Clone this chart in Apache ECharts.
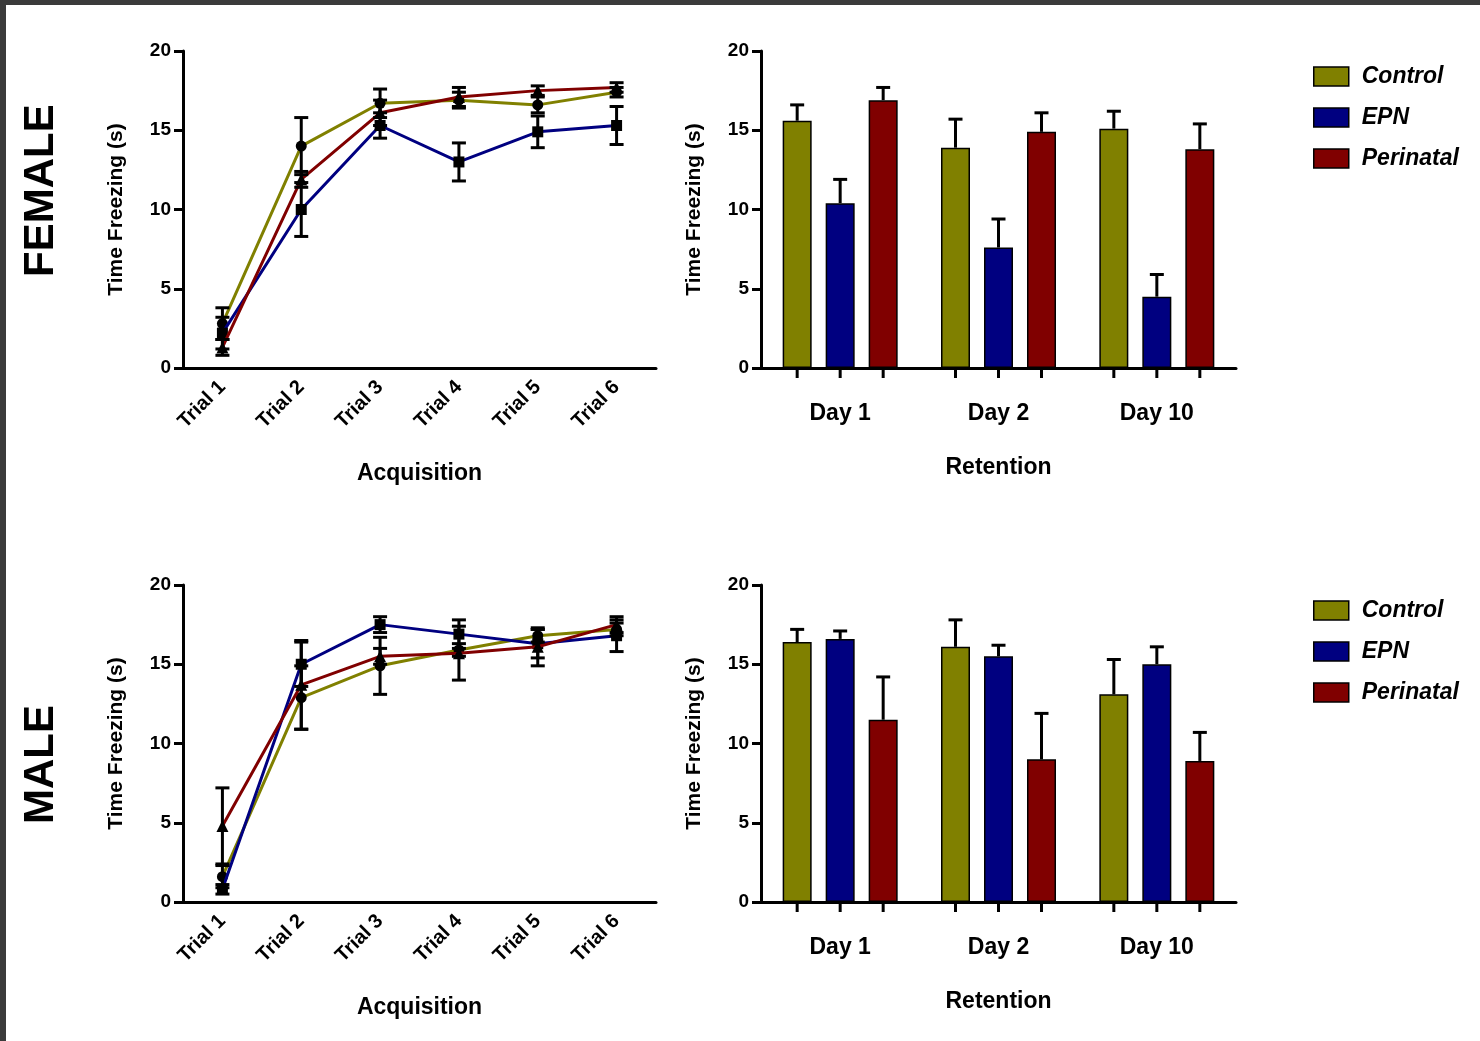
<!DOCTYPE html>
<html>
<head>
<meta charset="utf-8">
<script src="https://cdn.jsdelivr.net/npm/echarts@6/dist/echarts.min.js"></script>
<style>
  html, body { margin: 0; padding: 0; background: #fff; }
  #frame { position: absolute; left: 0; top: 0; width: 1480px; height: 1041px; box-sizing: border-box; border-top: 5px solid #3b3b3b; border-left: 6px solid #3b3b3b; }
  #chart { position: absolute; left: 0; top: 0; width: 1480px; height: 1041px; }
</style>
</head>
<body>
<div id="frame"></div>
<div id="chart"></div>
<script>
'use strict';
const trials = ['Trial 1', 'Trial 2', 'Trial 3', 'Trial 4', 'Trial 5', 'Trial 6'];
const days = ['Day 1', 'Day 2', 'Day 10'];
const groups = ['Control', 'EPN', 'Perinatal'];
const colors = ['#808000', '#000080', '#800000'];
const symbols = ['circle', 'rect', 'triangle'];

// female acquisition: mean, sem
const femAcqMean = [
  [2.8, 14.0, 16.7, 16.9, 16.6, 17.4],
  [2.2, 10.0, 15.3, 13.0, 14.9, 15.3],
  [1.3, 11.9, 16.1, 17.1, 17.5, 17.7]
];
const femAcqErr = [
  [1.0, 1.8, 0.9, 0.5, 0.5, 0.3],
  [1.0, 1.7, 0.8, 1.2, 1.0, 1.2],
  [0.5, 0.5, 0.8, 0.6, 0.3, 0.3]
];
// male acquisition
const maleAcqMean = [
  [1.6, 12.9, 14.9, 15.9, 16.8, 17.2],
  [0.8, 15.0, 17.5, 16.9, 16.3, 16.8],
  [4.8, 13.7, 15.5, 15.7, 16.1, 17.5]
];
const maleAcqErr = [
  [0.7, 2.0, 1.8, 0.4, 0.4, 0.4],
  [0.3, 1.4, 0.5, 0.9, 0.9, 1.0],
  [2.4, 2.8, 0.5, 1.7, 1.2, 0.5]
];
// retention
const femRetMean = [[15.6, 13.9, 15.1], [10.4, 7.6, 4.5], [16.9, 14.9, 13.8]];
const femRetErr = [[1.0, 1.8, 1.1], [1.5, 1.8, 1.4], [0.8, 1.2, 1.6]];
const maleRetMean = [[16.4, 16.1, 13.1], [16.6, 15.5, 15.0], [11.5, 9.0, 8.9]];
const maleRetErr = [[0.8, 1.7, 2.2], [0.5, 0.7, 1.1], [2.7, 2.9, 1.8]];

const FONT = 'Liberation Sans, Arial, sans-serif';
const BAR_W = 29;
const BAR_STEP = 43;

function yAxis(gi) {
  return {
    type: 'value', gridIndex: gi, min: 0, max: 20, interval: 5,
    name: 'Time Freezing (s)', nameLocation: 'middle', nameGap: 56, nameRotate: 90,
    nameTextStyle: {fontFamily: FONT, fontWeight: 'bold', fontSize: 21, color: '#000'},
    axisLine: {show: true, lineStyle: {color: '#000', width: 3}},
    axisTick: {show: true, length: 9, lineStyle: {color: '#000', width: 3}},
    axisLabel: {fontFamily: FONT, fontWeight: 'bold', fontSize: 19, color: '#000', margin: 12},
    splitLine: {show: false}
  };
}
function xAxisLine(gi) {
  return {
    type: 'category', gridIndex: gi, data: trials,
    name: 'Acquisition', nameLocation: 'middle', nameGap: 94,
    nameTextStyle: {fontFamily: FONT, fontWeight: 'bold', fontSize: 23, color: '#000'},
    axisLine: {lineStyle: {color: '#000', width: 3}},
    axisTick: {alignWithLabel: true, length: 9, lineStyle: {color: '#000', width: 3}},
    axisLabel: {fontFamily: FONT, fontWeight: 'bold', fontSize: 20, color: '#000', rotate: 45, margin: 16, interval: 0}
  };
}
function xAxisBar(gi) {
  return {
    type: 'category', gridIndex: gi, data: days,
    name: 'Retention', nameLocation: 'middle', nameGap: 88,
    nameTextStyle: {fontFamily: FONT, fontWeight: 'bold', fontSize: 23, color: '#000'},
    axisLine: {lineStyle: {color: '#000', width: 3}},
    axisTick: {show: false},
    axisLabel: {fontFamily: FONT, fontWeight: 'bold', fontSize: 23, color: '#000', margin: 34}
  };
}

function lineSeries(gi, means, errs) {
  const out = [];
  means.forEach((m, k) => {
    out.push({
      type: 'line', name: groups[k], xAxisIndex: gi, yAxisIndex: gi, data: m,
      symbol: symbols[k], symbolSize: k === 2 ? 12 : 11,
      itemStyle: {color: '#000'}, lineStyle: {color: colors[k], width: 3}, z: 3 + k
    });
  });
  means.forEach((m, k) => {
    out.push({
      type: 'custom', xAxisIndex: gi, yAxisIndex: gi, z: 10,
      data: m.map((v, i) => [i, v, errs[k][i]]),
      renderItem: (params, api) => {
        const lo = api.coord([api.value(0), api.value(1) - api.value(2)]);
        const hi = api.coord([api.value(0), api.value(1) + api.value(2)]);
        const st = {stroke: '#000', lineWidth: 3};
        return {type: 'group', children: [
          {type: 'line', shape: {x1: lo[0], y1: lo[1], x2: hi[0], y2: hi[1]}, style: st},
          {type: 'line', shape: {x1: lo[0] - 7, y1: lo[1], x2: lo[0] + 7, y2: lo[1]}, style: st},
          {type: 'line', shape: {x1: hi[0] - 7, y1: hi[1], x2: hi[0] + 7, y2: hi[1]}, style: st}
        ]};
      }
    });
  });
  return out;
}

function barSeries(gi, means, errs) {
  const out = [];
  means.forEach((m, k) => {
    out.push({
      type: 'bar', name: groups[k], xAxisIndex: gi, yAxisIndex: gi, data: m,
      barWidth: BAR_W, barGap: ((BAR_STEP - BAR_W) / BAR_W * 100) + '%',
      itemStyle: {color: colors[k], borderColor: '#000', borderWidth: 1.5}
    });
  });
  means.forEach((m, k) => {
    out.push({
      type: 'custom', xAxisIndex: gi, yAxisIndex: gi, z: 10,
      data: m.map((v, i) => [i, v, errs[k][i]]),
      renderItem: (params, api) => {
        const off = (k - 1) * BAR_STEP;
        const mid = api.coord([api.value(0), api.value(1)]);
        const hi = api.coord([api.value(0), api.value(1) + api.value(2)]);
        const base = api.coord([api.value(0), 0]);
        const x = mid[0] + off;
        const st = {stroke: '#000', lineWidth: 3};
        return {type: 'group', children: [
          {type: 'line', shape: {x1: x, y1: mid[1], x2: x, y2: hi[1]}, style: st},
          {type: 'line', shape: {x1: x - 7, y1: hi[1], x2: x + 7, y2: hi[1]}, style: st},
          {type: 'line', shape: {x1: x, y1: base[1], x2: x, y2: base[1] + 10}, style: st}
        ]};
      }
    });
  });
  return out;
}

function legendAt(top) {
  return {
    left: 1308, top: top, orient: 'vertical', itemWidth: 35, itemHeight: 19, itemGap: 18,
    icon: 'rect',
    data: groups.map((g, k) => ({name: g, itemStyle: {color: colors[k], borderColor: '#000', borderWidth: 1.5}})),
    textStyle: {fontFamily: FONT, fontWeight: 'bold', fontStyle: 'italic', fontSize: 23, color: '#000', padding: [0, 0, 0, 8]}
  };
}

const chart = echarts.init(document.getElementById('chart'));
const option = {
  animation: false,
  grid: [
    {left: 183, top: 51, width: 473, height: 317},
    {left: 761, top: 51, width: 475, height: 317},
    {left: 183, top: 585, width: 473, height: 317},
    {left: 761, top: 585, width: 475, height: 317}
  ],
  xAxis: [xAxisLine(0), xAxisBar(1), xAxisLine(2), xAxisBar(3)],
  yAxis: [yAxis(0), yAxis(1), yAxis(2), yAxis(3)],
  legend: [legendAt(60), legendAt(594)],
  graphic: [
    {type: 'text', x: 20, y: 277, rotation: Math.PI / 2, style: {text: 'FEMALE', font: 'bold 42px ' + FONT, fill: '#000'}},
    {type: 'text', x: 20, y: 824, rotation: Math.PI / 2, style: {text: 'MALE', font: 'bold 42px ' + FONT, fill: '#000'}}
  ],
  series: [].concat(
    lineSeries(0, femAcqMean, femAcqErr),
    barSeries(1, femRetMean, femRetErr),
    lineSeries(2, maleAcqMean, maleAcqErr),
    barSeries(3, maleRetMean, maleRetErr)
  )
};
chart.setOption(option);
</script>
</body>
</html>
